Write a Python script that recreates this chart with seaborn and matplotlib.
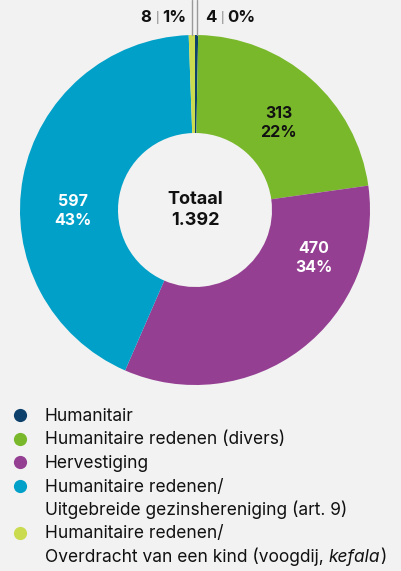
import numpy as np
import matplotlib
matplotlib.use("Agg")
import matplotlib.pyplot as plt
import seaborn as sns
from matplotlib.lines import Line2D

# ===============================
# DATA
# ===============================
categories = [
    "Humanitair",
    "Humanitaire redenen (divers)",
    "Hervestiging",
    "Humanitaire redenen/\nUitgebreide gezinshereniging (art. 9)",
    "Humanitaire redenen/\nOverdracht van een kind (voogdij, *kefala*)",
]
counts = [4, 313, 470, 597, 8]
percent_labels = ["0%", "22%", "34%", "43%", "1%"]
colors = ["#0d416b", "#79b82b", "#943f92", "#00a0c8", "#cbdb4f"]
inner_text_colors = [None, "#111111", "white", "white", None]
# where the value labels sit (angle in degrees, radius as fraction)
label_angles = [None, 46, -22, 180.5]
label_radii = [None, 0.69, 0.73, 0.70]
total_label = "Totaal\n1.392"

bg = "#f2f2f2"

sns.set_theme(style="white")
plt.rcParams["font.family"] = ["Inter", "DejaVu Sans"]

W, H = 401, 571
fig = plt.figure(figsize=(W / 100, H / 100), dpi=100, facecolor=bg)
renderer = fig.canvas.get_renderer()

# pie axes: centre (195, 210) px, radius 175 px
cx, cy, R = 195, 210, 175
ax = fig.add_axes([(cx - R) / W, (H - cy - R) / H, 2 * R / W, 2 * R / H])
ax.set_facecolor(bg)

wedges, _ = ax.pie(counts, colors=colors, startangle=90, counterclock=False,
                   radius=1.0, wedgeprops=dict(width=0.56, linewidth=0))
ax.set_xlim(-1, 1)
ax.set_ylim(-1, 1)
ax.set_aspect("equal")
ax.axis("off")

# labels inside the big wedges
for i, (c, p, tc) in enumerate(zip(counts, percent_labels, inner_text_colors)):
    if tc is None:
        continue
    ang = np.deg2rad(label_angles[i])
    r = label_radii[i]
    ax.text(r * np.cos(ang), r * np.sin(ang), f"{c}\n{p}", ha="center",
            va="center", color=tc, fontsize=11.5, fontweight="bold",
            linespacing=1.3)

ax.text(0, 0, total_label, ha="center", va="center", fontsize=13,
        fontweight="bold", color="#111111", linespacing=1.3)

# leader lines for the tiny wedges
for idx in [4, 0]:
    w = wedges[idx]
    ang = np.deg2rad((w.theta1 + w.theta2) / 2)
    px = cx + R * np.cos(ang)
    py = cy - R * np.sin(ang)
    fig.add_artist(Line2D([px / W, px / W], [1.0, (H - py) / H],
                          color="#9a9a9a", lw=1.0))

label_y = (H - 17) / H
# "8 | 1%"
fig.text(151 / W, label_y, str(counts[4]), ha="right", va="center",
         fontsize=12, fontweight="bold", color="#111111")
fig.text(157 / W, label_y, "|", ha="center", va="center", fontsize=8,
         color="#777777")
fig.text(162 / W, label_y, percent_labels[4], ha="left", va="center",
         fontsize=12, fontweight="bold", color="#111111")
# "4 | 0%"
fig.text(216 / W, label_y, str(counts[0]), ha="right", va="center",
         fontsize=12, fontweight="bold", color="#111111")
fig.text(222 / W, label_y, "|", ha="center", va="center", fontsize=8,
         color="#777777")
fig.text(227 / W, label_y, percent_labels[0], ha="left", va="center",
         fontsize=12, fontweight="bold", color="#111111")

# ===============================
# LEGEND (one row = 23.5 px)
# ===============================
def draw_line(x_px, y, line):
    # *word* -> italic segment
    parts = line.split("*")
    for k, part in enumerate(parts):
        if not part:
            continue
        t = fig.text(x_px / W, y, part, ha="left", va="baseline",
                     fontsize=12.5, color="#111111",
                     style="italic" if k % 2 else "normal")
        x_px += t.get_window_extent(renderer).width

row = 0
for lab, col in zip(categories, colors):
    yc = (H - (415 + 23.5 * row)) / H
    fig.add_artist(Line2D([20 / W], [yc], marker="o", markersize=9.5,
                          markerfacecolor=col, markeredgewidth=0,
                          linestyle=""))
    for line in lab.split("\n"):
        yb = (H - (415 + 23.5 * row) - 6) / H
        draw_line(45, yb, line)
        row += 1

fig.savefig("out.png", dpi=100, facecolor=bg)
